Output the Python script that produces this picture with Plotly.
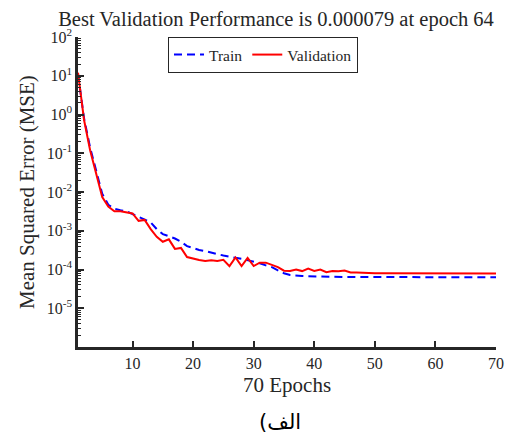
import plotly.graph_objects as go

epochs = list(range(1, 71))

train_mse = [
    11.0, 0.80, 0.14, 0.035, 0.0090, 0.0047, 0.0037, 0.0034, 0.0032, 0.0027,
    0.0023, 0.0020, 0.00165, 0.00110, 0.00082, 0.00072, 0.00063, 0.00052, 0.00040, 0.00036,
    0.00032, 0.00030, 0.00028, 0.00025, 0.00023, 0.00021, 0.00020, 0.00019, 0.000175, 0.000160,
    0.000145, 0.000128, 0.000115, 0.000095, 0.000080, 0.000072, 0.000069, 0.000068, 0.000067, 0.000066,
    0.000065, 0.000065, 0.000065, 0.000065, 0.000064, 0.000064, 0.000064, 0.000064, 0.000064, 0.000064,
    0.000064, 0.000064, 0.000064, 0.000064, 0.000064, 0.000064, 0.000064, 0.000064, 0.000063, 0.000063,
    0.000063, 0.000063, 0.000063, 0.000063, 0.000063, 0.000063, 0.000063, 0.000063, 0.000063, 0.000063,
]

val_mse = [
    12.0, 0.72, 0.12, 0.030, 0.0074, 0.0042, 0.0032, 0.0032, 0.0030, 0.0028,
    0.0018, 0.0019, 0.0011, 0.00070, 0.00052, 0.00060, 0.00034, 0.00036, 0.00021, 0.00019,
    0.000175, 0.000165, 0.000172, 0.000165, 0.000178, 0.000122, 0.000205, 0.000123, 0.000200, 0.000123,
    0.000150, 0.000150, 0.000130, 0.000115, 0.000093, 0.000092, 0.000100, 0.000091, 0.000105, 0.000092,
    0.000100, 0.000085, 0.000091, 0.000090, 0.000094, 0.000084, 0.000084, 0.000082, 0.000081, 0.000080,
    0.000080, 0.000080, 0.000080, 0.000080, 0.000080, 0.000080, 0.000080, 0.000080, 0.000080, 0.000080,
    0.000080, 0.000080, 0.000080, 0.000079, 0.000079, 0.000079, 0.000079, 0.000079, 0.000079, 0.000079,
]

x_ticks = [10, 20, 30, 40, 50, 60, 70]
y_exponents = [-5, -4, -3, -2, -1, 0, 1, 2]
y_ticktext = ["10<sup>%d</sup>" % e for e in y_exponents]

title_text = "Best Validation Performance is 0.000079 at epoch 64"
x_title = "70 Epochs"
y_title = "Mean Squared Error (MSE)"
caption = "الف)\u200f"

SERIF = "Liberation Serif, DejaVu Serif, serif"
INK = "#262626"

L, R, T, B = 78, 11, 37, 88
W, H = 507, 435
PW, PH = W - L - R, H - T - B

fig = go.Figure()
fig.add_trace(go.Scatter(
    x=epochs, y=train_mse, mode="lines", name="Train",
    line=dict(color="#0000FF", width=2, dash="8px,5px"),
))
fig.add_trace(go.Scatter(
    x=epochs, y=val_mse, mode="lines", name="Validation",
    line=dict(color="#FF0000", width=2),
))

minor_vals = [m * 10 ** e for e in range(-6, 2) for m in range(2, 10)]

fig.update_layout(
    width=W, height=H,
    margin=dict(l=L, r=R, t=T, b=B, autoexpand=False),
    paper_bgcolor="white", plot_bgcolor="white",
    font=dict(family=SERIF, size=16, color=INK),
    title=dict(text=title_text, x=276 / W, xanchor="center", y=1 - 19 / H, yanchor="middle",
               font=dict(family=SERIF, size=20.5, color=INK)),
    showlegend=True,
    legend=dict(orientation="h", x=(168 - L) / PW, xanchor="left", y=(H - B - 37) / PH, yanchor="top",
                bordercolor=INK, borderwidth=1, bgcolor="white",
                font=dict(family=SERIF, size=15.5, color=INK),
                itemwidth=30, tracegroupgap=0),
    xaxis=dict(
        range=[1, 70], tickvals=x_ticks, ticks="inside", ticklen=6, tickwidth=1.5,
        tickcolor=INK, showline=True, linecolor=INK, linewidth=2.5,
        showgrid=False, zeroline=False, mirror=False, automargin=False,
        tickfont=dict(size=16),
    ),
    yaxis=dict(
        type="log", range=[-6, 2],
        tickvals=[10 ** e for e in y_exponents], ticktext=y_ticktext,
        ticks="inside", ticklen=6, tickwidth=1.5, tickcolor=INK,
        showline=True, linecolor=INK, linewidth=2.5,
        showgrid=False, zeroline=False, mirror=False, automargin=False,
        minor=dict(tickvals=minor_vals, ticks="inside", ticklen=3, tickwidth=1,
                   tickcolor=INK, showgrid=False),
        tickfont=dict(size=16),
    ),
)

fig.add_annotation(
    text=x_title, xref="paper", yref="paper", x=(287 - L) / PW, y=-(385 - (H - B)) / PH,
    xanchor="center", yanchor="middle", showarrow=False,
    font=dict(family=SERIF, size=21, color=INK),
)
fig.add_annotation(
    text=y_title, xref="paper", yref="paper", x=-(L - 27) / PW, y=0.5 - (192 - (T + PH / 2)) / PH,
    xanchor="center", yanchor="middle", showarrow=False, textangle=-90,
    font=dict(family=SERIF, size=21, color=INK),
)
fig.add_annotation(
    text=caption, xref="paper", yref="paper", x=(280 - L) / PW, y=-(422 - (H - B)) / PH,
    xanchor="center", yanchor="middle", showarrow=False,
    font=dict(family="DejaVu Sans, Noto Sans", size=21, color="black"),
)

fig.write_html("out.html", config={"displayModeBar": False},
               post_script="document.body.style.margin='0px';document.body.style.padding='0px';")
